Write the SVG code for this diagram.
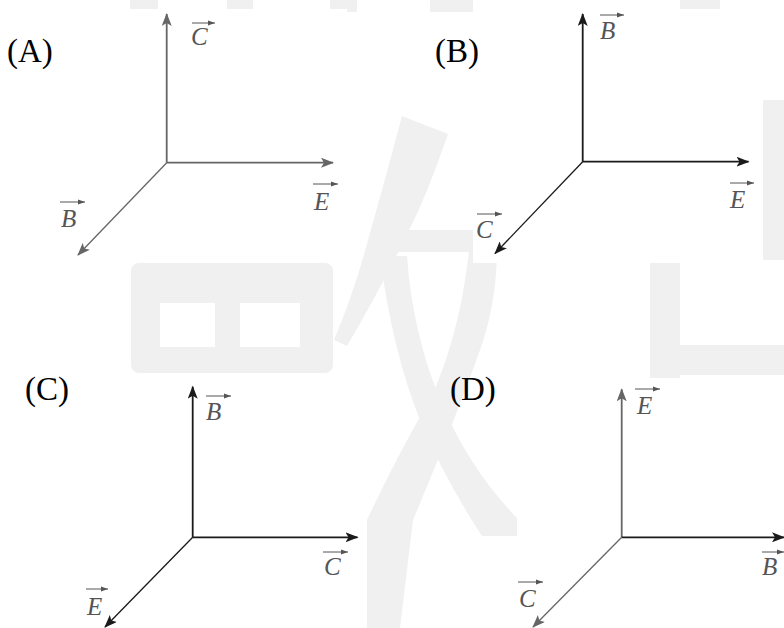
<svg xmlns="http://www.w3.org/2000/svg" width="784" height="628" viewBox="0 0 784 628">
<defs>
<marker id="ah" markerUnits="userSpaceOnUse" markerWidth="14" markerHeight="10" refX="12" refY="5" orient="auto">
<path d="M0,0 L13,5 L0,10 L3,5 Z" fill="context-stroke"/>
</marker>
<marker id="ahs" markerUnits="userSpaceOnUse" markerWidth="8" markerHeight="6" refX="7" refY="3" orient="auto">
<path d="M0,0.5 L7,3 L0,5.5 Z" fill="#555"/>
</marker>
<style>
.wmf{fill:#f0f0f0}
.bg{fill:#ffffff}
.ax{fill:none;stroke-width:1.8;marker-end:url(#ah)}
.dg{fill:none;stroke-width:1.3;marker-end:url(#ah)}
.g{stroke:#666}
.k{stroke:#1a1a1a}
.lab{font-family:"Liberation Serif","Times New Roman",serif;font-size:33px;fill:#000}
.v{font-family:"Liberation Serif","Times New Roman",serif;font-style:italic;font-size:25px;fill:#555}
.oa{stroke:#555;stroke-width:1;fill:none;marker-end:url(#ahs)}
</style>
</defs>
<rect width="784" height="628" fill="#fff"/>
<g id="watermark">
<rect class="wmf" x="131" y="263" width="202" height="110" rx="8"/>
<rect class="bg" x="160" y="303" width="55" height="44"/>
<rect class="bg" x="240" y="303" width="60" height="44"/>
<path class="wmf" d="M402,116 L448,134 Q425,200 408,232 Q380,290 347,346 L334,340 Q355,290 368,240 Q385,180 402,116 Z"/>
<rect class="wmf" x="395" y="230" width="100" height="22"/>
<path class="wmf" d="M470,240 L497,240 Q498,300 480,350 Q455,420 413,520 L400,628 L365,628 L367,520 Q400,450 430,400 Q462,330 470,240 Z"/>
<path class="wmf" d="M380,256 L407,256 Q412,330 440,400 Q470,470 517,518 L517,536 L482,536 Q445,480 420,420 Q392,350 380,256 Z"/>
<rect class="wmf" x="650" y="260" width="30" height="118"/>
<rect class="wmf" x="680" y="345" width="104" height="30"/>
<rect class="wmf" x="762" y="100" width="22" height="160"/>
<rect class="wmf" x="130" y="0" width="28" height="10"/>
<rect class="wmf" x="227" y="0" width="26" height="10"/>
<rect class="wmf" x="330" y="0" width="27" height="12"/>
<rect class="wmf" x="430" y="0" width="43" height="12"/>
<rect class="wmf" x="680" y="0" width="40" height="10"/>
</g>
<g id="backgrounds">
<rect class="bg" x="0" y="9" width="347" height="254"/>
<rect class="bg" x="473" y="9" width="290" height="254"/>
<rect class="bg" x="0" y="383" width="367" height="245"/>
<rect class="bg" x="517" y="380" width="267" height="248"/>
</g>
<g id="connectors">
<path class="ax g" d="M166.7,162.7 V14"/>
<path class="ax g" d="M166.7,162.7 H333"/>
<path class="dg g" d="M166.7,162.7 L78,255"/>
<path class="ax k" d="M582.7,161.7 V14"/>
<path class="ax k" d="M582.7,161.7 H748.5"/>
<path class="dg k" d="M582.7,161.7 L495,253.5"/>
<path class="ax k" d="M192.7,537.3 V386.7"/>
<path class="ax k" d="M192.7,537.3 H357.5"/>
<path class="dg k" d="M192.7,537.3 L105,627"/>
<path class="ax g" d="M621.7,537.3 V389.3"/>
<path class="ax k" d="M621.7,537.3 H784"/>
<path class="dg g" d="M621.7,537.3 L533,627"/>
</g>
<g id="panel-A">
<text class="lab" x="7" y="62">(A)</text>
<g id="A-C"><path class="oa" d="M192,23 H215"/><text class="v" x="191" y="45">C</text></g>
<g id="A-E"><path class="oa" d="M313,184 H338"/><text class="v" x="314" y="210">E</text></g>
<g id="A-B"><path class="oa" d="M60,202 H85"/><text class="v" x="61" y="227">B</text></g>
</g>
<g id="panel-B">
<text class="lab" x="435" y="62">(B)</text>
<g id="B-B"><path class="oa" d="M600,15 H624"/><text class="v" x="600" y="39">B</text></g>
<g id="B-E"><path class="oa" d="M730,183 H754"/><text class="v" x="730" y="208">E</text></g>
<g id="B-C"><path class="oa" d="M477,214 H502"/><text class="v" x="476" y="238">C</text></g>
</g>
<g id="panel-C">
<text class="lab" x="25" y="400">(C)</text>
<g id="C-B"><path class="oa" d="M206,396 H231"/><text class="v" x="206" y="420">B</text></g>
<g id="C-C"><path class="oa" d="M323,552 H348"/><text class="v" x="324" y="575">C</text></g>
<g id="C-E"><path class="oa" d="M86,589 H108"/><text class="v" x="87" y="615">E</text></g>
</g>
<g id="panel-D">
<text class="lab" x="450" y="400">(D)</text>
<g id="D-E"><path class="oa" d="M635,389 H660"/><text class="v" x="637" y="414">E</text></g>
<g id="D-B"><path class="oa" d="M762,552 H784"/><text class="v" x="762" y="575">B</text></g>
<g id="D-C"><path class="oa" d="M518,582 H543"/><text class="v" x="519" y="607">C</text></g>
</g>
</svg>
